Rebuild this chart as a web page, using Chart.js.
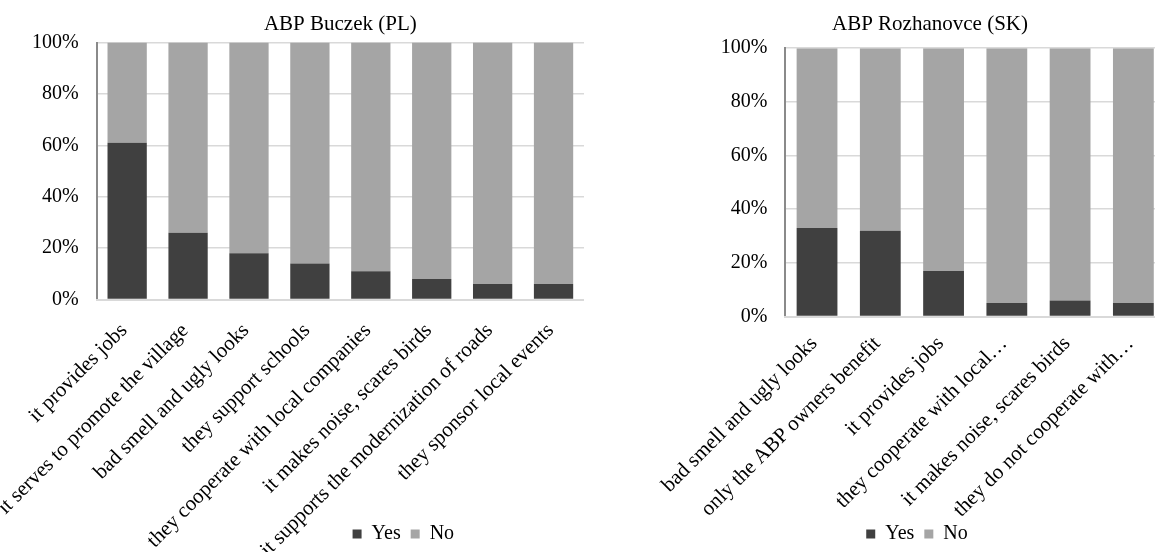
<!DOCTYPE html>
<html>
<head>
<meta charset="utf-8">
<script src="https://cdn.jsdelivr.net/npm/chart.js@4.4.1/dist/chart.umd.min.js"></script>
<style>
  html, body { margin: 0; padding: 0; background: #fff; overflow: hidden; }
  #wrap { position: relative; width: 1155px; height: 552px; overflow: hidden; }
  canvas { position: absolute; top: 0; }
  #buczek { left: 0; }
  #rozhanovce { left: 640px; }
</style>
</head>
<body>
<div id="wrap">
  <canvas id="buczek" width="584" height="552"></canvas>
  <canvas id="rozhanovce" width="525" height="552"></canvas>
</div>
<script>
// Survey answers, share of respondents (%)
const buczekTitle = 'ABP Buczek (PL)';
const buczekCategories = [
  'it provides jobs',
  'it serves to promote the village',
  'bad smell and ugly looks',
  'they support schools',
  'they cooperate with local companies',
  'it makes noise, scares birds',
  'it supports the modernization of roads',
  'they sponsor local events'
];
const buczekYes = [61, 26, 18, 14, 11, 8, 6, 6];
const buczekNo  = [39, 74, 82, 86, 89, 92, 94, 94];

const rozhanovceTitle = 'ABP Rozhanovce (SK)';
const rozhanovceCategories = [
  'bad smell and ugly looks',
  'only the ABP owners benefit',
  'it provides jobs',
  'they cooperate with local\u2026',
  'it makes noise, scares birds',
  'they do not cooperate with\u2026'
];
const rozhanovceYes = [33, 32, 17, 5, 6, 5];
const rozhanovceNo  = [67, 68, 83, 95, 94, 95];

const seriesNames  = ['Yes', 'No'];
const seriesColors = ['#404040', '#a5a5a5'];
const percentMin = 0, percentMax = 100, percentStep = 20;

const FONT = "'Liberation Serif', 'Times New Roman', serif";
const TEXT = '#000000';

// after layout: nudge the legend, and let the slanted category labels
// run down to the bottom edge of the canvas instead of being cut at the axis box
const layoutTweaks = {
  id: 'layoutTweaks',
  afterLayout(chart, args, opts) {
    const lg = chart.legend;
    if (lg) {
      lg.left += opts.dx || 0; lg.right += opts.dx || 0;
      lg.top += opts.dy || 0; lg.bottom += opts.dy || 0;
    }
    if (chart.scales.x) chart.scales.x.bottom = chart.height;
  }
};

function drawChart(id, title, categories, yes, no, geo) {
  const ctx = document.getElementById(id);
  return new Chart(ctx, {
    type: 'bar',
    data: {
      labels: categories,
      datasets: [
        { label: seriesNames[0], data: yes, backgroundColor: seriesColors[0], borderWidth: 0 },
        { label: seriesNames[1], data: no,  backgroundColor: seriesColors[1], borderWidth: 0 }
      ]
    },
    plugins: [layoutTweaks],
    options: {
      responsive: false,
      animation: false,
      devicePixelRatio: 1,
      categoryPercentage: 1,
      barPercentage: 0.645,
      layout: { padding: { left: geo.padLeft, right: 0, top: 0, bottom: 0 } },
      scales: {
        x: {
          stacked: true,
          grid: { display: false, drawTicks: false },
          border: { display: true, color: '#d9d9d9', width: 2, z: 1 },
          ticks: {
            autoSkip: false, minRotation: 45, maxRotation: 45,
            padding: geo.labelGap, labelOffset: -3,
            color: TEXT, font: { family: FONT, size: 21 }
          },
          afterFit: s => {
            s.height = geo.xAxisHeight;
            s.paddingLeft = 0;
            s.paddingRight = 0;
          }
        },
        y: {
          stacked: true,
          min: percentMin, max: percentMax,
          grid: { color: '#d9d9d9', lineWidth: 1.5, drawTicks: false },
          border: { display: true, color: '#8a8a8a', width: 2 },
          ticks: {
            stepSize: percentStep, padding: 18,
            color: TEXT, font: { family: FONT, size: 20 },
            callback: v => v + '%'
          },
          afterFit: s => { s.width = geo.yAxisWidth; }
        }
      },
      plugins: {
        title: {
          display: true, text: title, fullSize: geo.fullSize,
          color: TEXT, font: { family: FONT, size: 21, weight: 'normal' },
          padding: { top: 12, bottom: geo.titleGap }
        },
        legend: {
          display: true, position: 'bottom', fullSize: geo.fullSize,
          labels: {
            boxWidth: 9, boxHeight: 9, padding: 10,
            color: TEXT, font: { family: FONT, size: 20 }
          }
        },
        layoutTweaks: { dx: geo.legendDx, dy: 2 },
        tooltip: { enabled: false }
      }
    }
  });
}

drawChart('buczek', buczekTitle, buczekCategories, buczekYes, buczekNo,
  { padLeft: 0, yAxisWidth: 96.7, xAxisHeight: 212.5, titleGap: 5.3, fullSize: false, legendDx: 63, labelGap: 19 });
drawChart('rozhanovce', rozhanovceTitle, rozhanovceCategories, rozhanovceYes, rozhanovceNo,
  { padLeft: 55, yAxisWidth: 90.4, xAxisHeight: 195.5, titleGap: 11, fullSize: true, legendDx: -13, labelGap: 15 });
</script>
</body>
</html>
